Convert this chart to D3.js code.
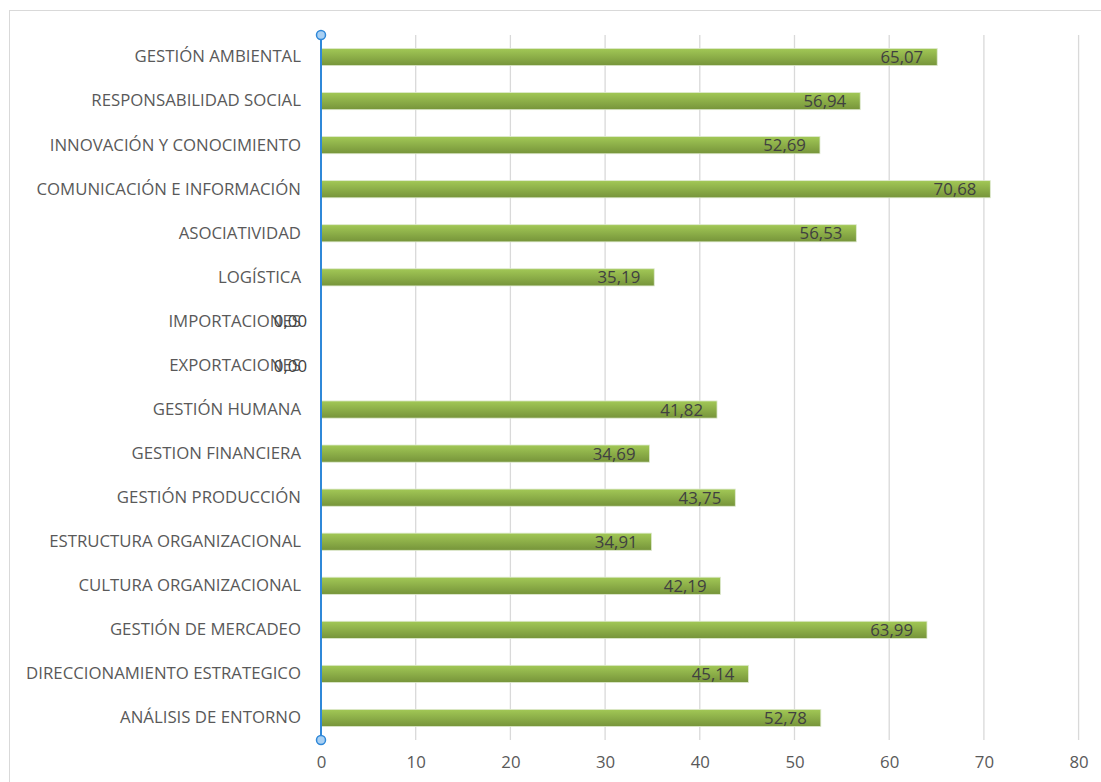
<!DOCTYPE html>
<html><head><meta charset="utf-8">
<script src="https://cdnjs.cloudflare.com/ajax/libs/d3/7.8.5/d3.min.js"></script>
<style>body{margin:0;background:#fff}svg{display:block}</style>
</head><body><svg id="c" width="1101" height="782"></svg>
<script>
const categories = ["GESTIÓN AMBIENTAL","RESPONSABILIDAD SOCIAL","INNOVACIÓN Y CONOCIMIENTO","COMUNICACIÓN E INFORMACIÓN","ASOCIATIVIDAD","LOGÍSTICA","IMPORTACIONES","EXPORTACIONES","GESTIÓN HUMANA","GESTION FINANCIERA","GESTIÓN PRODUCCIÓN","ESTRUCTURA ORGANIZACIONAL","CULTURA ORGANIZACIONAL","GESTIÓN DE MERCADEO","DIRECCIONAMIENTO ESTRATEGICO","ANÁLISIS DE ENTORNO"];
const values = [65.07,56.94,52.69,70.68,56.53,35.19,0,0,41.82,34.69,43.75,34.91,42.19,63.99,45.14,52.78];
const xTicks = [0,10,20,30,40,50,60,70,80];

(function(){
const svg = d3.select("#c");
const font = "'Open Sans', sans-serif";
const fs = "16.8px";
const pL = 321, pR = 1078.6, pT = 35, pB = 740;

svg.append("rect").attr("x",9.5).attr("y",10.5).attr("width",1100).attr("height",780)
  .attr("fill","none").attr("stroke","#d9d9d9");

const defs = svg.append("defs");
const g = defs.append("linearGradient").attr("id","bg").attr("x1",0).attr("y1",0).attr("x2",0).attr("y2",1);
g.append("stop").attr("offset","0%").attr("stop-color","#a2c856");
g.append("stop").attr("offset","100%").attr("stop-color","#76943a");

const x = d3.scaleLinear().domain([0,80]).range([pL,pR]);
const y = d3.scaleBand().domain(categories).range([pT,pB]).paddingInner(0.61).paddingOuter(0.305);

svg.append("g").selectAll("line").data(xTicks.slice(1)).join("line")
  .attr("x1",d=>x(d)).attr("x2",d=>x(d)).attr("y1",pT).attr("y2",pB)
  .attr("stroke","#d9d9d9").attr("stroke-width",1.3);

const xa = svg.append("g").attr("transform",`translate(0,${pB})`)
  .call(d3.axisBottom(x).tickValues(xTicks).tickSize(0).tickPadding(16).tickFormat(d3.format("d")));
xa.select(".domain").remove();
xa.selectAll("text").attr("font-family",font).attr("font-size",fs).attr("fill","#595959");

svg.append("g").selectAll("rect").data(values).join("rect")
  .attr("x",x(0)).attr("y",(d,i)=>y(categories[i]))
  .attr("width",d=>x(d)-x(0)).attr("height",y.bandwidth())
  .attr("fill","url(#bg)").attr("stroke","#dfead0").attr("stroke-width",0.8);

const ya = svg.append("g").attr("transform",`translate(${pL},0)`)
  .call(d3.axisLeft(y).tickSize(0).tickPadding(20));
ya.select(".domain").remove();
ya.selectAll("text").attr("font-family",font).attr("font-size",fs).attr("fill","#595959");

const fmt = v => d3.format(".2f")(v).replace(".",",");
svg.append("g").selectAll("text").data(values).join("text")
  .attr("x",d=>x(d)-14).attr("y",(d,i)=>y(categories[i])+y.bandwidth()/2)
  .attr("dy","0.36em").attr("text-anchor","end")
  .attr("font-family",font).attr("font-size",fs).attr("fill","#404040")
  .text(d=>fmt(d));

svg.append("line").attr("x1",pL).attr("x2",pL).attr("y1",pT).attr("y2",pB)
  .attr("stroke","#2f88d8").attr("stroke-width",2);
svg.append("g").selectAll("circle").data([pT,pB]).join("circle")
  .attr("cx",pL).attr("cy",d=>d).attr("r",4.5)
  .attr("fill","#a9d0f3").attr("stroke","#2f88d8").attr("stroke-width",1.5);
})();
</script></body></html>
